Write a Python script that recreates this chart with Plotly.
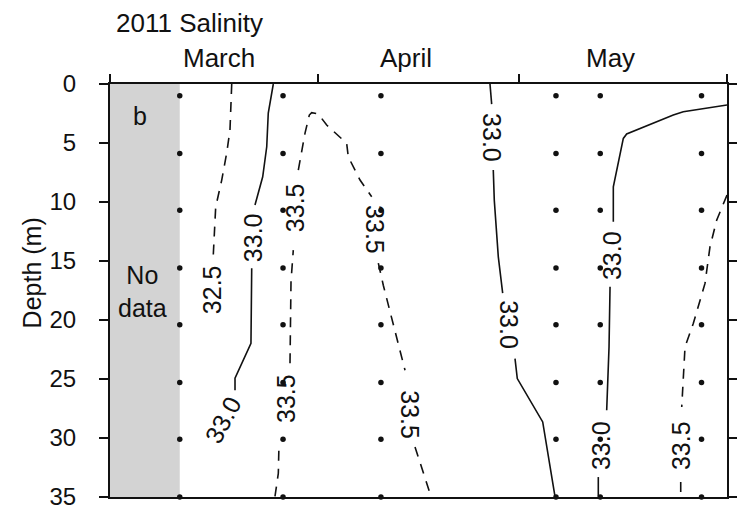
import plotly.graph_objects as go

# ---- data (x = days since 1 March 2011, y = depth in m) ----
station_days = [10.4, 25.8, 40.4, 66.5, 73.1, 88.2]
sample_depths = [1, 5.9, 10.7, 15.6, 20.4, 25.3, 30.1, 35]

month_names = ["March", "April", "May"]
month_label_days = [16.3, 44.1, 74.7]
month_bounds = [0, 31, 61, 92]
depth_ticks = [0, 5, 10, 15, 20, 25, 30, 35]

# contour isolines (None = gap for label)
c325_day = [18.15, 17.89, 17.40, 16.66, 15.76, 15.40]
c325_depth = [0, 3.90, 5.85, 8.14, 10.43, 14.50]

c330a_day = [24.35, 23.60, 23.37, 22.77, 21.62, None, 21.13, 21.02, 18.64, 18.64]
c330a_depth = [0, 2.46, 5.32, 7.86, 10.26, None, 15.61, 21.97, 24.94, 25.95]

c335a_day = [24.60, 25.10, 25.20, None, 26.84, 26.99, 27.33, None,
             28.08, 29.08, 29.72, 30.07, 31.06, 32.31, 35.29, 35.53, 37.28, 39.02, None,
             40.01, 40.75, 43.99, None, 45.48, 47.86]
c335a_depth = [34.95, 32.99, 30.45, None, 23.66, 16.71, 14.08, None,
               7.29, 4.16, 2.63, 2.43, 2.54, 3.48, 5.03, 6.17, 8.14, 9.56, None,
               15.18, 17.05, 24.26, None, 30.76, 34.95]

c330b_day = [56.66, 56.91, None, 57.15, 57.30, 57.90, 58.55, None,
             60.39, 60.73, 64.52, 66.35]
c330b_depth = [0, 1.70, None, 7.29, 9.84, 14.65, 17.73, None,
               23.27, 24.96, 28.64, 34.95]

c330c_day = [92.0, 85.48, 83.99, 78.53, 77.04, 76.54, 75.30, 75.05, 75.05, None,
             74.56, 74.41, 74.06, None, 72.81, 72.81]
c330c_depth = [1.78, 2.35, 2.63, 3.90, 4.24, 4.61, 7.86, 8.71, 11.68, None,
               17.19, 22.28, 27.65, None, 33.31, 34.95]

c335b_day = [92.0, 90.46, 89.46, 88.72, 86.97, 85.74, 85.25, None, 85.10, 85.10]
c335b_depth = [9.41, 11.54, 13.80, 16.90, 20.30, 22.28, 27.37, None, 33.73, 34.95]

label_text = ["32.5", "33.0", "33.0", "33.5", "33.5", "33.5", "33.5",
              "33.0", "33.0", "33.0", "33.0", "33.5"]
label_day = [15.21, 21.32, 16.85, 26.35, 27.59, 39.51, 44.73,
             56.96, 59.49, 74.85, 73.32, 85.25]
label_depth = [17.47, 12.98, 28.50, 26.63, 10.52, 12.38, 28.07,
               4.50, 20.44, 14.50, 30.62, 30.62]
label_angle = [-90, -90, -62, -90, -90, 90, 90, 90, 90, -90, -90, -90]

FONT = "Liberation Sans, Arial, Helvetica, sans-serif"
INK = "#111111"

fig = go.Figure()

lines = [
    (c325_day, c325_depth, "10px,8px"),
    (c330a_day, c330a_depth, "solid"),
    (c335a_day, c335a_depth, "10px,8px"),
    (c330b_day, c330b_depth, "solid"),
    (c330c_day, c330c_depth, "solid"),
    (c335b_day, c335b_depth, "10px,8px"),
]
for xs, ys, dash in lines:
    fig.add_trace(go.Scatter(x=xs, y=ys, mode="lines", connectgaps=False,
                             line=dict(color=INK, width=1.6, dash=dash),
                             hoverinfo="skip", showlegend=False))

dot_x = [d for d in station_days for _ in sample_depths]
dot_y = [z for _ in station_days for z in sample_depths]
fig.add_trace(go.Scatter(x=dot_x, y=dot_y, mode="markers", cliponaxis=False,
                         marker=dict(color=INK, size=5.5),
                         hoverinfo="skip", showlegend=False))

fig.add_shape(type="rect", xref="x", yref="y", x0=0, x1=station_days[0],
              y0=0, y1=35, fillcolor="#d3d3d3", line=dict(width=0), layer="below")


def txt(text, x, y, xref="x", yref="y", angle=0, size=25):
    return dict(text=text, x=x, y=y, xref=xref, yref=yref, showarrow=False,
                textangle=angle, xanchor="center", yanchor="middle",
                font=dict(size=size, color=INK, family=FONT))


ann = []
for t, x, y, a in zip(label_text, label_day, label_depth, label_angle):
    ann.append(txt(t, x, y, angle=a))
for name, d in zip(month_names, month_label_days):
    ann.append(txt(name, d, 1.063, yref="paper", size=26))
ann.append(txt("2011 Salinity", 11.9, 1.148, yref="paper", size=26))
ann.append(txt("b", 4.5, 2.7))
ann.append(txt("No<br>data", 4.85, 17.6))
ann.append(txt("Depth (m)", -0.126, 0.542, xref="paper", yref="paper", angle=-90))

fig.update_layout(
    width=737, height=510,
    margin=dict(l=110, r=10, t=84, b=13, autoexpand=False),
    plot_bgcolor="white", paper_bgcolor="white",
    font=dict(family=FONT, color=INK),
    annotations=ann,
    xaxis=dict(range=[0, 92], side="top", tickvals=month_bounds, ticks="outside",
               ticklen=8, tickwidth=2, tickcolor=INK, showticklabels=False,
               showline=True, linewidth=2, linecolor=INK, mirror=True,
               showgrid=False, zeroline=False, automargin=False),
    yaxis=dict(range=[35, 0], tickvals=depth_ticks, ticks="outside", ticklen=9,
               tickwidth=2, tickcolor=INK, showline=True, linewidth=2,
               linecolor=INK, mirror="ticks", showgrid=False, zeroline=False,
               tickfont=dict(size=24, color=INK, family=FONT),
               ticklabelstandoff=18, ticklabeloverflow="allow", automargin=False),
)

fig.write_html("out.html", config={"displayModeBar": False},
               post_script="document.body.style.margin='0';document.body.style.padding='0';")
